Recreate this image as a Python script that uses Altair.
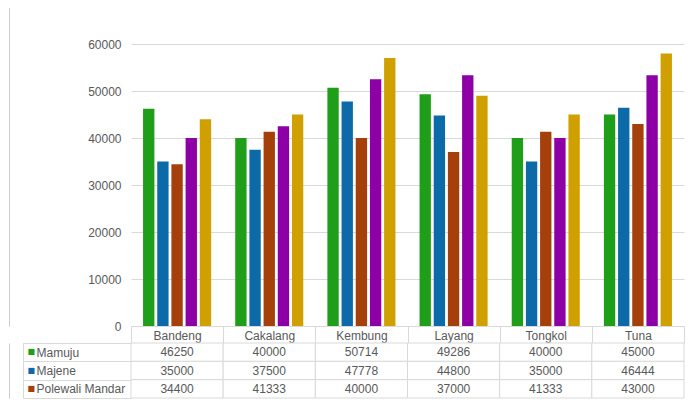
import altair as alt
import pandas as pd

categories = ["Bandeng", "Cakalang", "Kembung", "Layang", "Tongkol", "Tuna"]
series_names = ["Mamuju", "Majene", "Polewali Mandar", "Mamasa", "Mamuju Utara"]
mamuju = [46250, 40000, 50714, 49286, 40000, 45000]
majene = [35000, 37500, 47778, 44800, 35000, 46444]
polewali = [34400, 41333, 40000, 37000, 41333, 43000]
mamasa = [40000, 42500, 52500, 53333, 40000, 53333]
mamuju_utara = [44000, 45000, 57000, 49000, 45000, 58000]
colors = ["#1f9e1a", "#0d6aa8", "#a5400b", "#8c00a5", "#d0a000"]
y_ticks = [0, 10000, 20000, 30000, 40000, 50000, 60000, 70000]

series_values = [mamuju, majene, polewali, mamasa, mamuju_utara]
records = []
for name, vals in zip(series_names, series_values):
    for cat, v in zip(categories, vals):
        records.append({"category": cat, "series": name, "value": v})
df = pd.DataFrame(records)

table_series = series_names[:3]
trec = []
for name, vals in zip(series_names[:3], series_values[:3]):
    for cat, v in zip(categories, vals):
        trec.append({"category": cat, "row": name, "txt": str(v)})
tdf = pd.DataFrame(trec)

FONT = "Liberation Sans"
GRAY = "#595959"
LINE = "#d9d9d9"
FRAME = "#cccccc"

xb = alt.X("category:N", sort=categories,
           scale=alt.Scale(paddingInner=0, paddingOuter=0),
           axis=alt.Axis(title=None, tickBand="extent", tickSize=17, tickColor=LINE,
                         domainColor=LINE, labelAngle=0, labelBaseline="middle",
                         labelPadding=-8, labelColor=GRAY, labelFont=FONT,
                         labelFontSize=12))
xo = alt.XOffset("series:N", sort=series_names,
                 scale=alt.Scale(paddingInner=0.2, paddingOuter=0.85))
yscale = alt.Scale(domain=[0, 70000], nice=False)

bars = alt.Chart(df).mark_bar().encode(
    x=xb,
    xOffset=xo,
    y=alt.Y("value:Q", scale=yscale,
            axis=alt.Axis(values=y_ticks, format="d", grid=True, gridColor=LINE,
                          domain=False, ticks=False, labelPadding=10,
                          labelColor=GRAY, labelFontSize=12, labelFont=FONT,
                          title=None)),
    color=alt.Color("series:N", sort=series_names,
                    scale=alt.Scale(domain=series_names, range=colors),
                    legend=None),
)
frame_l = alt.Chart(df).mark_bar(opacity=0).encode(
    x=xb, xOffset=xo,
    y=alt.Y("value:Q", scale=yscale,
            axis=alt.Axis(orient="left", offset=122, labels=False, ticks=False,
                          grid=False, domainColor=FRAME, domainWidth=1,
                          title=None)),
)
frame_r = alt.Chart(df).mark_bar(opacity=0).encode(
    x=xb, xOffset=xo,
    y=alt.Y("value:Q", scale=yscale,
            axis=alt.Axis(orient="right", offset=6, labels=False, ticks=False,
                          grid=False, domainColor=FRAME, domainWidth=1,
                          title=None)),
)
top = alt.layer(bars, frame_l, frame_r).resolve_axis(y="independent").properties(
    width=553, height=329)

color_expr = " : ".join(
    [f"datum.value === '{n}' ? '{c}'" for n, c in zip(table_series, colors[:3])]
) + " : 'transparent'"

xt = alt.X("category:N", sort=categories,
           scale=alt.Scale(paddingInner=0, paddingOuter=0), axis=None)
ysc = alt.Scale(domain=table_series, paddingInner=0, paddingOuter=0)

cells = alt.Chart(tdf).mark_rect(fill="white", stroke=LINE, strokeWidth=1).encode(
    x=xt,
    y=alt.Y("row:N", sort=table_series, scale=ysc,
            axis=alt.Axis(title=None, orient="left", tickBand="extent", tickSize=108,
                          tickColor=LINE, domain=False, grid=False,
                          labelAlign="left", labelPadding=-13,
                          labelColor=GRAY, labelFont=FONT, labelFontSize=12)),
)
texts = alt.Chart(tdf).mark_text(font=FONT, fontSize=12, color=GRAY).encode(
    x=xt,
    y=alt.Y("row:N", sort=table_series, scale=ysc,
            axis=alt.Axis(title=None, orient="left", offset=108, ticks=False,
                          domain=True, domainColor=LINE, grid=False,
                          labelAlign="left", labelPadding=-4,
                          labelExpr="'■'",
                          labelColor={"expr": color_expr}, labelFont="DejaVu Sans",
                          labelFontSize=8)),
    text="txt:N",
)
tframe_l = alt.Chart(tdf).mark_rect(opacity=0).encode(
    x=xt,
    y=alt.Y("row:N", sort=table_series, scale=ysc,
            axis=alt.Axis(orient="left", offset=122, labels=False, ticks=False,
                          grid=False, domainColor=FRAME, domainWidth=1,
                          title=None)),
)
tframe_r = alt.Chart(tdf).mark_rect(opacity=0).encode(
    x=xt,
    y=alt.Y("row:N", sort=table_series, scale=ysc,
            axis=alt.Axis(orient="right", offset=6, labels=False, ticks=False,
                          grid=False, domainColor=FRAME, domainWidth=1,
                          title=None)),
)
table = alt.layer(cells, texts, tframe_l, tframe_r).resolve_axis(
    y="independent").properties(width=553, height=55)

chart = alt.vconcat(top, table, spacing=17, bounds="flush").properties(
    padding={"top": -17, "left": 1, "right": 0, "bottom": 0}
).configure_view(stroke=None)

chart.save("out.html", embed_options={"renderer": "svg", "actions": False})
